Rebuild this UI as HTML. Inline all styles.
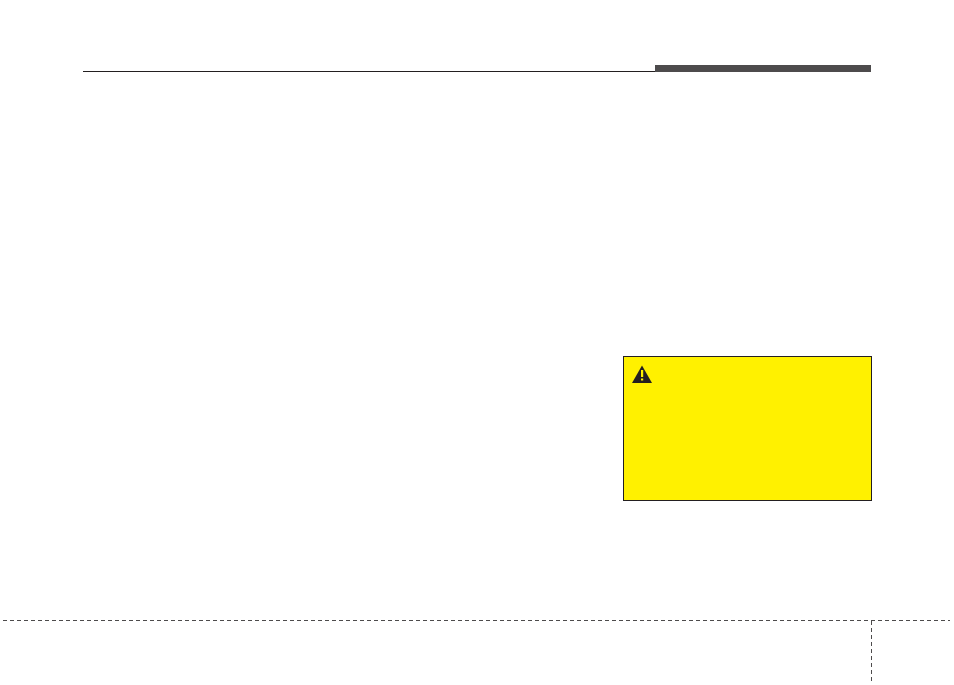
<!DOCTYPE html>
<html><head><meta charset="utf-8"><style>
html,body{margin:0;padding:0;background:#fff;}
body{width:954px;height:685px;position:relative;overflow:hidden;}
</style></head><body>
<svg width="954" height="685" style="position:absolute;left:0;top:0">
  <line x1="83" y1="71.5" x2="656" y2="71.5" stroke="#231f20" stroke-width="1"/>
  <rect x="655" y="65" width="216" height="7" fill="#4d4b4c"/>
  <rect x="623.5" y="356.5" width="248" height="144" fill="#fff100" stroke="#231f20" stroke-width="1"/>
  <polygon points="642,365.5 632,383 652,383" fill="#231f20"/>
  <rect x="641" y="370" width="2.2" height="7" fill="#fff100"/>
  <rect x="641" y="378.5" width="2.2" height="2" fill="#fff100"/>
  <line x1="3" y1="620.5" x2="950" y2="620.5" stroke="#4d4b4c" stroke-width="1" stroke-dasharray="4,3"/>
  <line x1="871.5" y1="621" x2="871.5" y2="684" stroke="#4d4b4c" stroke-width="1" stroke-dasharray="4,3"/>
</svg>
</body></html>
